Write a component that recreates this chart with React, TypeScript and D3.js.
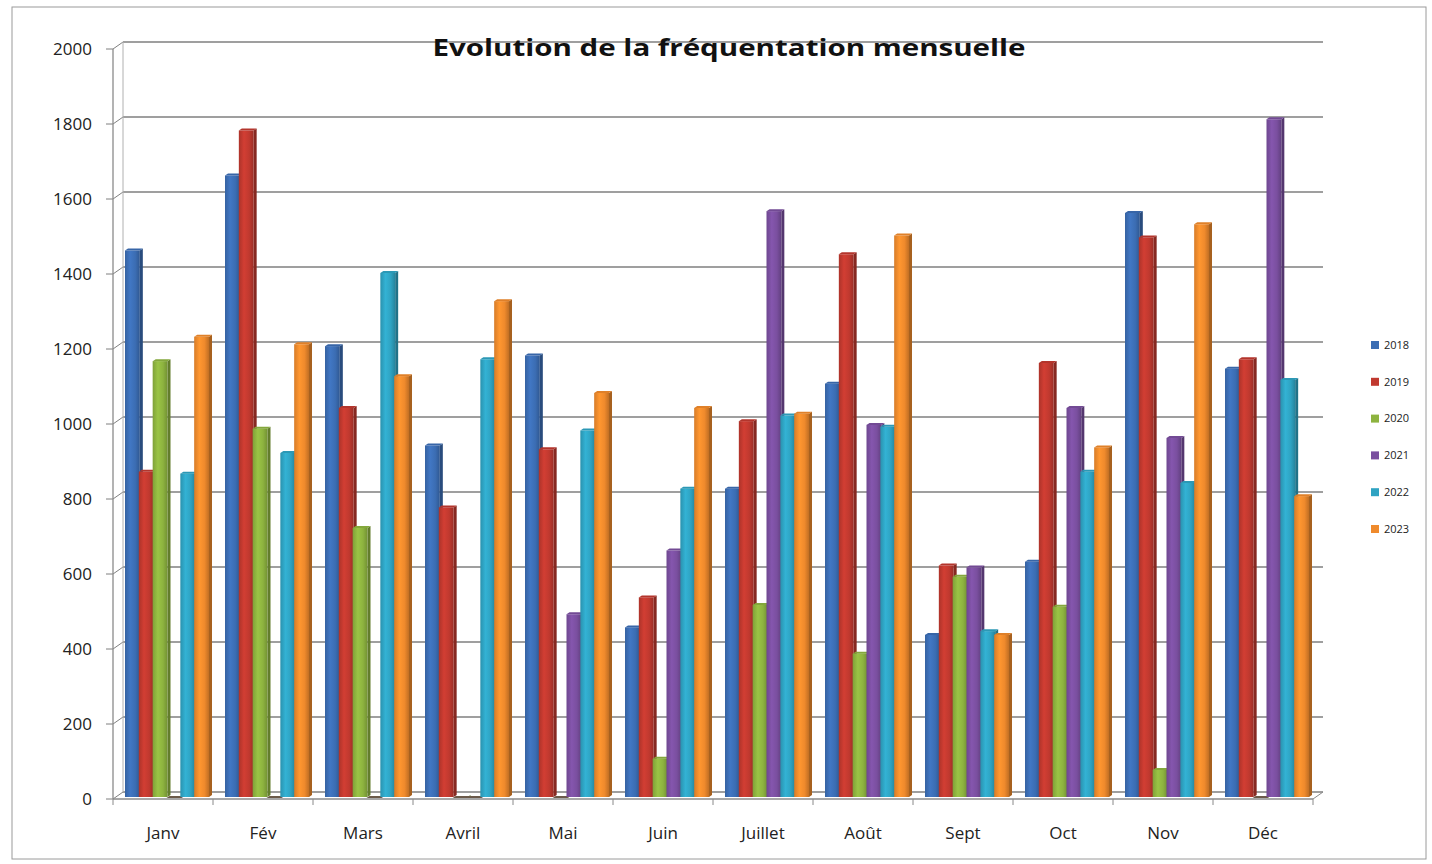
import React from "react";
import * as d3 from "d3";

const months = ["Janv", "Fév", "Mars", "Avril", "Mai", "Juin", "Juillet", "Août", "Sept", "Oct", "Nov", "Déc"];
const years = ["2018", "2019", "2020", "2021", "2022", "2023"];
const v2018 = [1460, 1660, 1205, 940, 1180, 455, 825, 1105, 435, 630, 1560, 1145];
const v2019 = [870, 1780, 1040, 775, 930, 535, 1005, 1450, 620, 1160, 1495, 1170];
const v2020 = [1165, 985, 720, 0, 0, 105, 515, 385, 590, 510, 75, 0];
const v2021 = [0, 0, 0, 0, 490, 660, 1565, 995, 615, 1040, 960, 1810];
const v2022 = [865, 920, 1400, 1170, 980, 825, 1020, 990, 445, 870, 840, 1115];
const v2023 = [1230, 1210, 1125, 1325, 1080, 1040, 1025, 1500, 435, 935, 1530, 805];
const seriesValues = [v2018, v2019, v2020, v2021, v2022, v2023];
const yTicks = [0, 200, 400, 600, 800, 1000, 1200, 1400, 1600, 1800, 2000];
const colors = ["#3b6db3", "#c0392f", "#8db33f", "#7a4f9f", "#2fa3c2", "#ef8a2c"];

export default function App() {
  const W = 1432, H = 864;
  const x = d3.scaleBand<string>().domain(months).range([113, 1313]);
  const xi = d3.scaleBand<string>().domain(years).range([12, 95]);
  const y = d3.scaleLinear().domain([0, 2000]).range([799, 49]);
  const dx = 10, dy = -7;
  const bw = xi.bandwidth();
  const w = bw + 1;
  const sd = 3, sdy = -2;

  return (
    <svg width={W} height={H} style={{ position: "absolute", left: 0, top: 0, background: "#fff" }}
      fontFamily="'Open Sans', sans-serif">
      <defs>
        {colors.map((c, i) => {
          const base = d3.color(c)!;
          return (
            <linearGradient key={i} id={`g${i}`} x1="0" x2="1" y1="0" y2="0">
              <stop offset="0" stopColor={d3.color(c)!.darker(0.3).toString()} />
              <stop offset="0.35" stopColor={base.brighter(0.25).toString()} />
              <stop offset="0.7" stopColor={c} />
              <stop offset="1" stopColor={d3.color(c)!.darker(0.6).toString()} />
            </linearGradient>
          );
        })}
      </defs>
      <rect x={12} y={7} width={1414} height={852} fill="#fff" stroke="#9a9a9a" strokeWidth={1} />

      {/* back wall gridlines */}
      {yTicks.map((t) => (
        <g key={t}>
          <line x1={113 + dx} x2={1313 + dx} y1={y(t) + dy} y2={y(t) + dy} stroke="#7f7f7f" strokeWidth={1.3} />
          <line x1={113} x2={113 + dx} y1={y(t)} y2={y(t) + dy} stroke="#7f7f7f" strokeWidth={1} />
          <line x1={106} x2={113} y1={y(t)} y2={y(t)} stroke="#7f7f7f" strokeWidth={1} />
          <text x={92} y={y(t)} dy="0.35em" textAnchor="end" fontSize={17} fill="#222">{t}</text>
        </g>
      ))}
      {/* left axis */}
      <line x1={113} x2={113} y1={y(2000)} y2={y(0)} stroke="#8a8a8a" strokeWidth={1.3} />
      <line x1={113 + dx} x2={113 + dx} y1={y(2000) + dy} y2={y(0) + dy} stroke="#b0b0b0" strokeWidth={1} />
      {/* floor */}
      <line x1={113} x2={1313} y1={y(0)} y2={y(0)} stroke="#8a8a8a" strokeWidth={1.3} />
      <line x1={1313} x2={1313 + dx} y1={y(0)} y2={y(0) + dy} stroke="#8a8a8a" strokeWidth={1} />
      {months.map((m) => (
        <line key={m} x1={x(m)!} x2={x(m)!} y1={y(0)} y2={y(0) + 6} stroke="#8a8a8a" strokeWidth={1} />
      ))}
      <line x1={1313} x2={1313} y1={y(0)} y2={y(0) + 6} stroke="#8a8a8a" strokeWidth={1} />

      {/* bars */}
      {months.map((m, mi) => (
        <g key={m}>
          {years.map((yr, si) => {
            const v = seriesValues[si][mi];
            const x0 = x(m)! + xi(yr)!;
            const yt = y(v) - 1;
            const yb = y(0) - 2;
            const c = colors[si];
            const dark = d3.color(c)!.darker(1).toString();
            const top = d3.color(c)!.darker(0.2).toString();
            return (
              <g key={yr}>
                <polygon points={`${x0 + w},${yt} ${x0 + w + sd},${yt + sdy} ${x0 + w + sd},${yb + sdy} ${x0 + w},${yb}`} fill={dark} />
                <rect x={x0} y={yt} width={w} height={Math.max(0, yb - yt)} fill={`url(#g${si})`} />
                <polygon points={`${x0},${yt} ${x0 + sd},${yt + sdy} ${x0 + w + sd},${yt + sdy} ${x0 + w},${yt}`} fill={v === 0 ? "#6b5a4a" : top} />
              </g>
            );
          })}
          <text x={x(m)! + x.bandwidth() / 2} y={833} dy="0.35em" textAnchor="middle" fontSize={17} fill="#222">{m}</text>
        </g>
      ))}

      {/* title */}
      <text x={729} y={48} dy="0.35em" textAnchor="middle" fontSize={24} fontWeight="bold" fill="#111"
        textLength={593} lengthAdjust="spacingAndGlyphs">Evolution de la fréquentation mensuelle</text>

      {/* legend */}
      {years.map((yr, i) => {
        const ly = 345 + i * 36.8;
        return (
          <g key={yr}>
            <rect x={1371} y={ly - 4} width={8} height={8} fill={colors[i]} />
            <text x={1384} y={ly} dy="0.35em" fontSize={11} fill="#222">{yr}</text>
          </g>
        );
      })}
    </svg>
  );
}
